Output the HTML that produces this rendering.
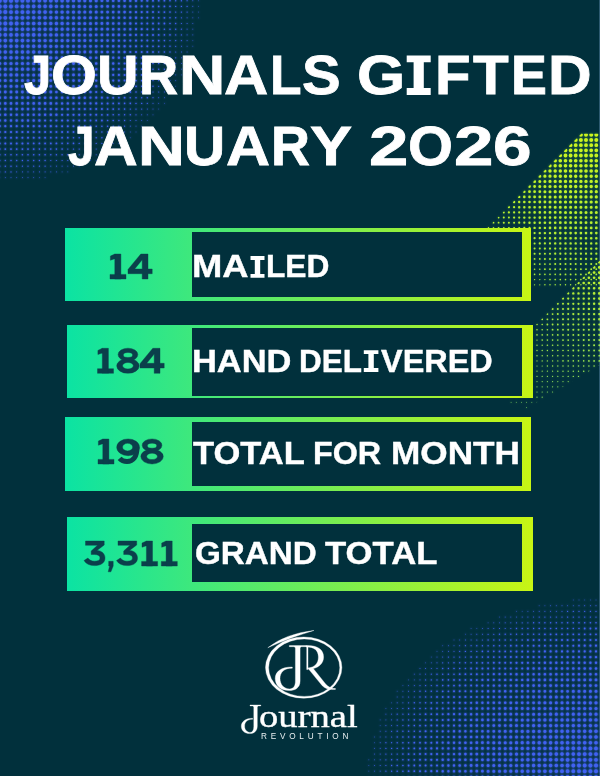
<!DOCTYPE html>
<html><head><meta charset="utf-8"><title>Journals Gifted January 2026</title>
<style>
html,body{margin:0;padding:0}
body{width:600px;height:776px;background:#01303c;position:relative;overflow:hidden;font-family:"Liberation Sans",sans-serif}
.bar{position:absolute;background:linear-gradient(90deg,#0be3a3 0%,#c8f514 100%)}
.inner{position:absolute;background:#01303c}
.t{position:absolute;white-space:nowrap;color:#fff;font-weight:bold;transform-origin:0 0;line-height:1}
</style></head><body>
<svg width="600" height="776" viewBox="0 0 600 776" style="position:absolute;left:0;top:0">
<defs>
<clipPath id="c1"><polygon points="600,133.8 581.3,133.8 430,285.1 430,288 600,288"/></clipPath>
<clipPath id="c2"><polygon points="600,260.5 440,420.5 440,460 600,364.8"/></clipPath>
<linearGradient id="gg1" gradientUnits="userSpaceOnUse" x1="0" y1="133" x2="0" y2="290"><stop offset="0" stop-color="#cdf51c"/><stop offset="1" stop-color="#a6ea3e"/></linearGradient>
<linearGradient id="gg2" gradientUnits="userSpaceOnUse" x1="0" y1="261" x2="0" y2="410"><stop offset="0" stop-color="#c4f22a"/><stop offset="1" stop-color="#7fd862"/></linearGradient>
<filter id="hb" x="-5%" y="-5%" width="110%" height="110%"><feGaussianBlur stdDeviation="1.2"/><feColorMatrix type="matrix" values="0 0 0 0 0.03  0 0 0 0 0.08  0 0 0 0 0.44  0 0 0 1.9 0"/></filter>
<filter id="hg" x="-5%" y="-5%" width="110%" height="110%"><feGaussianBlur stdDeviation="1.0"/><feColorMatrix type="matrix" values="0 0 0 0 0.03  0 0 0 0 0.17  0 0 0 0 0.04  0 0 0 1.4 0"/></filter>
</defs>
<rect x="599" y="0" width="1" height="776" fill="#2d5a70"/>
<use href="#bd" filter="url(#hb)"/><use href="#g1" filter="url(#hg)"/><use href="#g2" filter="url(#hg)"/>
<g id="bd"><g fill="none" stroke="#4062f2" stroke-linecap="round"><path d="M39.4 177.6h0M45.1 177.6h0M62.1 171.9h0M67.8 171.9h0M79.2 166.2h0M90.5 160.5h0M96.2 160.5h0M101.9 154.8h0M113.2 149.1h0M130.3 137.7h0M136 132h0M141.7 126.2h0M147.3 120.5h0M153 114.8h0M158.7 109.1h0M164.4 103.4h0M170 92h0M175.7 86.3h0M181.4 74.9h0M187.1 57.8h0M187.1 63.5h0M192.8 40.6h0M192.8 46.3h0M198.4 0.7h0M198.4 6.4h0M198.4 12.1h0M198.4 17.8h0" stroke-width="0.6" /><path d="M-0.3 177.6h0M5.3 177.6h0M11 177.6h0M16.7 177.6h0M22.4 177.6h0M28 177.6h0M33.7 177.6h0M50.8 171.9h0M56.4 171.9h0M67.8 166.2h0M73.5 166.2h0M84.8 160.5h0M96.2 154.8h0M107.6 149.1h0M113.2 143.4h0M118.9 143.4h0M124.6 137.7h0M130.3 132h0M136 126.2h0M141.7 120.5h0M147.3 114.8h0M153 109.1h0M158.7 103.4h0M164.4 97.7h0M170 86.3h0M175.7 74.9h0M175.7 80.6h0M181.4 63.5h0M181.4 69.2h0M187.1 46.3h0M187.1 52h0M192.8 12.1h0M192.8 17.8h0M192.8 23.5h0M192.8 29.2h0M192.8 34.9h0" stroke-width="0.8" /><path d="M16.7 171.9h0M22.4 171.9h0M28 171.9h0M33.7 171.9h0M39.4 171.9h0M45.1 171.9h0M50.8 166.2h0M56.4 166.2h0M62.1 166.2h0M73.5 160.5h0M79.2 160.5h0M84.8 154.8h0M90.5 154.8h0M96.2 149.1h0M101.9 149.1h0M107.6 143.4h0M113.2 137.7h0M118.9 137.7h0M124.6 132h0M130.3 126.2h0M136 120.5h0M141.7 114.8h0M147.3 109.1h0M153 103.4h0M158.7 97.7h0M164.4 86.3h0M164.4 92h0M170 74.9h0M170 80.6h0M175.7 63.5h0M175.7 69.2h0M181.4 46.3h0M181.4 52h0M181.4 57.8h0M187.1 17.8h0M187.1 23.5h0M187.1 29.2h0M187.1 34.9h0M187.1 40.6h0M192.8 0.7h0M192.8 6.4h0" stroke-width="1" /><path d="M-0.3 171.9h0M5.3 171.9h0M11 171.9h0M16.7 166.2h0M22.4 166.2h0M28 166.2h0M33.7 166.2h0M39.4 166.2h0M45.1 166.2h0M50.8 160.5h0M56.4 160.5h0M62.1 160.5h0M67.8 160.5h0M73.5 154.8h0M79.2 154.8h0M84.8 149.1h0M90.5 149.1h0M96.2 143.4h0M101.9 143.4h0M107.6 137.7h0M113.2 132h0M118.9 132h0M124.6 126.2h0M130.3 120.5h0M136 114.8h0M141.7 109.1h0M147.3 103.4h0M153 92h0M153 97.7h0M158.7 86.3h0M158.7 92h0M164.4 74.9h0M164.4 80.6h0M170 63.5h0M170 69.2h0M175.7 46.3h0M175.7 52h0M175.7 57.8h0M181.4 17.8h0M181.4 23.5h0M181.4 29.2h0M181.4 34.9h0M181.4 40.6h0M187.1 0.7h0M187.1 6.4h0M187.1 12.1h0" stroke-width="1.2" /><path d="M-0.3 160.5h0M-0.3 166.2h0M5.3 160.5h0M5.3 166.2h0M11 160.5h0M11 166.2h0M16.7 160.5h0M22.4 160.5h0M28 160.5h0M33.7 160.5h0M39.4 160.5h0M45.1 160.5h0M50.8 154.8h0M56.4 154.8h0M62.1 154.8h0M67.8 149.1h0M67.8 154.8h0M73.5 149.1h0M79.2 143.4h0M79.2 149.1h0M84.8 143.4h0M90.5 137.7h0M90.5 143.4h0M96.2 137.7h0M101.9 132h0M101.9 137.7h0M107.6 132h0M113.2 126.2h0M118.9 120.5h0M118.9 126.2h0M124.6 114.8h0M124.6 120.5h0M130.3 109.1h0M130.3 114.8h0M136 103.4h0M136 109.1h0M141.7 97.7h0M141.7 103.4h0M147.3 92h0M147.3 97.7h0M153 80.6h0M153 86.3h0M158.7 69.2h0M158.7 74.9h0M158.7 80.6h0M164.4 57.8h0M164.4 63.5h0M164.4 69.2h0M170 40.6h0M170 46.3h0M170 52h0M170 57.8h0M175.7 0.7h0M175.7 6.4h0M175.7 12.1h0M175.7 17.8h0M175.7 23.5h0M175.7 29.2h0M175.7 34.9h0M175.7 40.6h0M181.4 0.7h0M181.4 6.4h0M181.4 12.1h0" stroke-width="1.4" /><path d="M-0.3 154.8h0M5.3 154.8h0M11 154.8h0M16.7 154.8h0M22.4 154.8h0M28 154.8h0M33.7 154.8h0M39.4 149.1h0M39.4 154.8h0M45.1 149.1h0M45.1 154.8h0M50.8 149.1h0M56.4 149.1h0M62.1 143.4h0M62.1 149.1h0M67.8 143.4h0M73.5 137.7h0M73.5 143.4h0M79.2 137.7h0M84.8 137.7h0M90.5 132h0M96.2 126.2h0M96.2 132h0M101.9 126.2h0M107.6 120.5h0M107.6 126.2h0M113.2 114.8h0M113.2 120.5h0M118.9 109.1h0M118.9 114.8h0M124.6 103.4h0M124.6 109.1h0M130.3 97.7h0M130.3 103.4h0M136 92h0M136 97.7h0M141.7 86.3h0M141.7 92h0M147.3 74.9h0M147.3 80.6h0M147.3 86.3h0M153 63.5h0M153 69.2h0M153 74.9h0M158.7 52h0M158.7 57.8h0M158.7 63.5h0M164.4 29.2h0M164.4 34.9h0M164.4 40.6h0M164.4 46.3h0M164.4 52h0M170 0.7h0M170 6.4h0M170 12.1h0M170 17.8h0M170 23.5h0M170 29.2h0M170 34.9h0" stroke-width="1.6" /><path d="M-0.3 149.1h0M5.3 149.1h0M11 149.1h0M16.7 149.1h0M22.4 149.1h0M28 143.4h0M28 149.1h0M33.7 143.4h0M33.7 149.1h0M39.4 143.4h0M45.1 143.4h0M50.8 137.7h0M50.8 143.4h0M56.4 137.7h0M56.4 143.4h0M62.1 137.7h0M67.8 132h0M67.8 137.7h0M73.5 132h0M79.2 126.2h0M79.2 132h0M84.8 126.2h0M84.8 132h0M90.5 120.5h0M90.5 126.2h0M96.2 120.5h0M101.9 114.8h0M101.9 120.5h0M107.6 109.1h0M107.6 114.8h0M113.2 103.4h0M113.2 109.1h0M118.9 97.7h0M118.9 103.4h0M124.6 92h0M124.6 97.7h0M130.3 86.3h0M130.3 92h0M136 74.9h0M136 80.6h0M136 86.3h0M141.7 69.2h0M141.7 74.9h0M141.7 80.6h0M147.3 57.8h0M147.3 63.5h0M147.3 69.2h0M153 40.6h0M153 46.3h0M153 52h0M153 57.8h0M158.7 0.7h0M158.7 6.4h0M158.7 12.1h0M158.7 17.8h0M158.7 23.5h0M158.7 29.2h0M158.7 34.9h0M158.7 40.6h0M158.7 46.3h0M164.4 0.7h0M164.4 6.4h0M164.4 12.1h0M164.4 17.8h0M164.4 23.5h0" stroke-width="1.8" /><path d="M-0.3 137.7h0M-0.3 143.4h0M5.3 137.7h0M5.3 143.4h0M11 137.7h0M11 143.4h0M16.7 137.7h0M16.7 143.4h0M22.4 137.7h0M22.4 143.4h0M28 137.7h0M33.7 137.7h0M39.4 132h0M39.4 137.7h0M45.1 132h0M45.1 137.7h0M50.8 132h0M56.4 126.2h0M56.4 132h0M62.1 126.2h0M62.1 132h0M67.8 126.2h0M73.5 120.5h0M73.5 126.2h0M79.2 120.5h0M84.8 114.8h0M84.8 120.5h0M90.5 109.1h0M90.5 114.8h0M96.2 109.1h0M96.2 114.8h0M101.9 103.4h0M101.9 109.1h0M107.6 97.7h0M107.6 103.4h0M113.2 92h0M113.2 97.7h0M118.9 86.3h0M118.9 92h0M124.6 74.9h0M124.6 80.6h0M124.6 86.3h0M130.3 69.2h0M130.3 74.9h0M130.3 80.6h0M136 57.8h0M136 63.5h0M136 69.2h0M141.7 40.6h0M141.7 46.3h0M141.7 52h0M141.7 57.8h0M141.7 63.5h0M147.3 17.8h0M147.3 23.5h0M147.3 29.2h0M147.3 34.9h0M147.3 40.6h0M147.3 46.3h0M147.3 52h0M153 0.7h0M153 6.4h0M153 12.1h0M153 17.8h0M153 23.5h0M153 29.2h0M153 34.9h0" stroke-width="2" /><path d="M-0.3 126.2h0M-0.3 132h0M5.3 126.2h0M5.3 132h0M11 126.2h0M11 132h0M16.7 126.2h0M16.7 132h0M22.4 126.2h0M22.4 132h0M28 126.2h0M28 132h0M33.7 126.2h0M33.7 132h0M39.4 126.2h0M45.1 120.5h0M45.1 126.2h0M50.8 120.5h0M50.8 126.2h0M56.4 120.5h0M62.1 114.8h0M62.1 120.5h0M67.8 114.8h0M67.8 120.5h0M73.5 109.1h0M73.5 114.8h0M79.2 103.4h0M79.2 109.1h0M79.2 114.8h0M84.8 103.4h0M84.8 109.1h0M90.5 97.7h0M90.5 103.4h0M96.2 92h0M96.2 97.7h0M96.2 103.4h0M101.9 86.3h0M101.9 92h0M101.9 97.7h0M107.6 80.6h0M107.6 86.3h0M107.6 92h0M113.2 74.9h0M113.2 80.6h0M113.2 86.3h0M118.9 63.5h0M118.9 69.2h0M118.9 74.9h0M118.9 80.6h0M124.6 57.8h0M124.6 63.5h0M124.6 69.2h0M130.3 40.6h0M130.3 46.3h0M130.3 52h0M130.3 57.8h0M130.3 63.5h0M136 23.5h0M136 29.2h0M136 34.9h0M136 40.6h0M136 46.3h0M136 52h0M141.7 0.7h0M141.7 6.4h0M141.7 12.1h0M141.7 17.8h0M141.7 23.5h0M141.7 29.2h0M141.7 34.9h0M147.3 0.7h0M147.3 6.4h0M147.3 12.1h0" stroke-width="2.2" /><path d="M-0.3 120.5h0M5.3 120.5h0M11 114.8h0M11 120.5h0M16.7 114.8h0M16.7 120.5h0M22.4 114.8h0M22.4 120.5h0M28 114.8h0M28 120.5h0M33.7 114.8h0M33.7 120.5h0M39.4 114.8h0M39.4 120.5h0M45.1 109.1h0M45.1 114.8h0M50.8 109.1h0M50.8 114.8h0M56.4 103.4h0M56.4 109.1h0M56.4 114.8h0M62.1 103.4h0M62.1 109.1h0M67.8 97.7h0M67.8 103.4h0M67.8 109.1h0M73.5 97.7h0M73.5 103.4h0M79.2 92h0M79.2 97.7h0M84.8 86.3h0M84.8 92h0M84.8 97.7h0M90.5 80.6h0M90.5 86.3h0M90.5 92h0M96.2 74.9h0M96.2 80.6h0M96.2 86.3h0M101.9 69.2h0M101.9 74.9h0M101.9 80.6h0M107.6 63.5h0M107.6 69.2h0M107.6 74.9h0M113.2 52h0M113.2 57.8h0M113.2 63.5h0M113.2 69.2h0M118.9 40.6h0M118.9 46.3h0M118.9 52h0M118.9 57.8h0M124.6 17.8h0M124.6 23.5h0M124.6 29.2h0M124.6 34.9h0M124.6 40.6h0M124.6 46.3h0M124.6 52h0M130.3 0.7h0M130.3 6.4h0M130.3 12.1h0M130.3 17.8h0M130.3 23.5h0M130.3 29.2h0M130.3 34.9h0M136 0.7h0M136 6.4h0M136 12.1h0M136 17.8h0" stroke-width="2.4" /><path d="M-0.3 103.4h0M-0.3 109.1h0M-0.3 114.8h0M5.3 103.4h0M5.3 109.1h0M5.3 114.8h0M11 103.4h0M11 109.1h0M16.7 103.4h0M16.7 109.1h0M22.4 103.4h0M22.4 109.1h0M28 103.4h0M28 109.1h0M33.7 103.4h0M33.7 109.1h0M39.4 97.7h0M39.4 103.4h0M39.4 109.1h0M45.1 97.7h0M45.1 103.4h0M50.8 97.7h0M50.8 103.4h0M56.4 92h0M56.4 97.7h0M62.1 86.3h0M62.1 92h0M62.1 97.7h0M67.8 86.3h0M67.8 92h0M73.5 80.6h0M73.5 86.3h0M73.5 92h0M79.2 74.9h0M79.2 80.6h0M79.2 86.3h0M84.8 69.2h0M84.8 74.9h0M84.8 80.6h0M90.5 63.5h0M90.5 69.2h0M90.5 74.9h0M96.2 57.8h0M96.2 63.5h0M96.2 69.2h0M101.9 46.3h0M101.9 52h0M101.9 57.8h0M101.9 63.5h0M107.6 34.9h0M107.6 40.6h0M107.6 46.3h0M107.6 52h0M107.6 57.8h0M113.2 0.7h0M113.2 6.4h0M113.2 12.1h0M113.2 17.8h0M113.2 23.5h0M113.2 29.2h0M113.2 34.9h0M113.2 40.6h0M113.2 46.3h0M118.9 0.7h0M118.9 6.4h0M118.9 12.1h0M118.9 17.8h0M118.9 23.5h0M118.9 29.2h0M118.9 34.9h0M124.6 0.7h0M124.6 6.4h0M124.6 12.1h0" stroke-width="2.6" /><path d="M-0.3 92h0M-0.3 97.7h0M5.3 92h0M5.3 97.7h0M11 92h0M11 97.7h0M16.7 92h0M16.7 97.7h0M22.4 92h0M22.4 97.7h0M28 92h0M28 97.7h0M33.7 86.3h0M33.7 92h0M33.7 97.7h0M39.4 86.3h0M39.4 92h0M45.1 86.3h0M45.1 92h0M50.8 80.6h0M50.8 86.3h0M50.8 92h0M56.4 74.9h0M56.4 80.6h0M56.4 86.3h0M62.1 74.9h0M62.1 80.6h0M67.8 69.2h0M67.8 74.9h0M67.8 80.6h0M73.5 63.5h0M73.5 69.2h0M73.5 74.9h0M79.2 57.8h0M79.2 63.5h0M79.2 69.2h0M84.8 52h0M84.8 57.8h0M84.8 63.5h0M90.5 40.6h0M90.5 46.3h0M90.5 52h0M90.5 57.8h0M96.2 23.5h0M96.2 29.2h0M96.2 34.9h0M96.2 40.6h0M96.2 46.3h0M96.2 52h0M101.9 0.7h0M101.9 6.4h0M101.9 12.1h0M101.9 17.8h0M101.9 23.5h0M101.9 29.2h0M101.9 34.9h0M101.9 40.6h0M107.6 0.7h0M107.6 6.4h0M107.6 12.1h0M107.6 17.8h0M107.6 23.5h0M107.6 29.2h0" stroke-width="2.8" /><path d="M-0.3 80.6h0M-0.3 86.3h0M5.3 80.6h0M5.3 86.3h0M11 80.6h0M11 86.3h0M16.7 80.6h0M16.7 86.3h0M22.4 74.9h0M22.4 80.6h0M22.4 86.3h0M28 74.9h0M28 80.6h0M28 86.3h0M33.7 74.9h0M33.7 80.6h0M39.4 69.2h0M39.4 74.9h0M39.4 80.6h0M45.1 69.2h0M45.1 74.9h0M45.1 80.6h0M50.8 63.5h0M50.8 69.2h0M50.8 74.9h0M56.4 57.8h0M56.4 63.5h0M56.4 69.2h0M62.1 52h0M62.1 57.8h0M62.1 63.5h0M62.1 69.2h0M67.8 46.3h0M67.8 52h0M67.8 57.8h0M67.8 63.5h0M73.5 40.6h0M73.5 46.3h0M73.5 52h0M73.5 57.8h0M79.2 29.2h0M79.2 34.9h0M79.2 40.6h0M79.2 46.3h0M79.2 52h0M84.8 0.7h0M84.8 6.4h0M84.8 12.1h0M84.8 17.8h0M84.8 23.5h0M84.8 29.2h0M84.8 34.9h0M84.8 40.6h0M84.8 46.3h0M90.5 0.7h0M90.5 6.4h0M90.5 12.1h0M90.5 17.8h0M90.5 23.5h0M90.5 29.2h0M90.5 34.9h0M96.2 0.7h0M96.2 6.4h0M96.2 12.1h0M96.2 17.8h0" stroke-width="3" /><path d="M-0.3 63.5h0M-0.3 69.2h0M-0.3 74.9h0M5.3 63.5h0M5.3 69.2h0M5.3 74.9h0M11 63.5h0M11 69.2h0M11 74.9h0M16.7 63.5h0M16.7 69.2h0M16.7 74.9h0M22.4 63.5h0M22.4 69.2h0M28 57.8h0M28 63.5h0M28 69.2h0M33.7 57.8h0M33.7 63.5h0M33.7 69.2h0M39.4 52h0M39.4 57.8h0M39.4 63.5h0M45.1 52h0M45.1 57.8h0M45.1 63.5h0M50.8 46.3h0M50.8 52h0M50.8 57.8h0M56.4 40.6h0M56.4 46.3h0M56.4 52h0M62.1 29.2h0M62.1 34.9h0M62.1 40.6h0M62.1 46.3h0M67.8 12.1h0M67.8 17.8h0M67.8 23.5h0M67.8 29.2h0M67.8 34.9h0M67.8 40.6h0M73.5 0.7h0M73.5 6.4h0M73.5 12.1h0M73.5 17.8h0M73.5 23.5h0M73.5 29.2h0M73.5 34.9h0M79.2 0.7h0M79.2 6.4h0M79.2 12.1h0M79.2 17.8h0M79.2 23.5h0" stroke-width="3.2" /><path d="M-0.3 52h0M-0.3 57.8h0M5.3 52h0M5.3 57.8h0M11 46.3h0M11 52h0M11 57.8h0M16.7 46.3h0M16.7 52h0M16.7 57.8h0M22.4 46.3h0M22.4 52h0M22.4 57.8h0M28 40.6h0M28 46.3h0M28 52h0M33.7 40.6h0M33.7 46.3h0M33.7 52h0M39.4 34.9h0M39.4 40.6h0M39.4 46.3h0M45.1 23.5h0M45.1 29.2h0M45.1 34.9h0M45.1 40.6h0M45.1 46.3h0M50.8 12.1h0M50.8 17.8h0M50.8 23.5h0M50.8 29.2h0M50.8 34.9h0M50.8 40.6h0M56.4 0.7h0M56.4 6.4h0M56.4 12.1h0M56.4 17.8h0M56.4 23.5h0M56.4 29.2h0M56.4 34.9h0M62.1 0.7h0M62.1 6.4h0M62.1 12.1h0M62.1 17.8h0M62.1 23.5h0M67.8 0.7h0M67.8 6.4h0" stroke-width="3.4" /><path d="M-0.3 34.9h0M-0.3 40.6h0M-0.3 46.3h0M5.3 34.9h0M5.3 40.6h0M5.3 46.3h0M11 29.2h0M11 34.9h0M11 40.6h0M16.7 29.2h0M16.7 34.9h0M16.7 40.6h0M22.4 23.5h0M22.4 29.2h0M22.4 34.9h0M22.4 40.6h0M28 17.8h0M28 23.5h0M28 29.2h0M28 34.9h0M33.7 0.7h0M33.7 6.4h0M33.7 12.1h0M33.7 17.8h0M33.7 23.5h0M33.7 29.2h0M33.7 34.9h0M39.4 0.7h0M39.4 6.4h0M39.4 12.1h0M39.4 17.8h0M39.4 23.5h0M39.4 29.2h0M45.1 0.7h0M45.1 6.4h0M45.1 12.1h0M45.1 17.8h0M50.8 0.7h0M50.8 6.4h0" stroke-width="3.6" /><path d="M-0.3 17.8h0M-0.3 23.5h0M-0.3 29.2h0M5.3 17.8h0M5.3 23.5h0M5.3 29.2h0M11 12.1h0M11 17.8h0M11 23.5h0M16.7 0.7h0M16.7 6.4h0M16.7 12.1h0M16.7 17.8h0M16.7 23.5h0M22.4 0.7h0M22.4 6.4h0M22.4 12.1h0M22.4 17.8h0M28 0.7h0M28 6.4h0M28 12.1h0" stroke-width="3.8" /><path d="M-0.3 0.7h0M-0.3 6.4h0M-0.3 12.1h0M5.3 0.7h0M5.3 6.4h0M5.3 12.1h0M11 0.7h0M11 6.4h0" stroke-width="4" /></g><g fill="none" stroke="#4062f2" stroke-linecap="round"><path d="M368.8 759.8h0M368.8 765.5h0M368.8 771.2h0M368.8 777h0M368.8 782.7h0M374.5 737h0M374.5 742.7h0M380.2 719.9h0M380.2 725.6h0M385.9 708.5h0M391.6 702.8h0M397.2 691.3h0M402.9 685.6h0M408.6 679.9h0M425.6 662.8h0M431.3 657.1h0M437 651.4h0M442.7 645.7h0M454 640h0M465.4 634.3h0M471.1 628.5h0M476.8 628.5h0M488.1 622.8h0M499.5 617.1h0M516.5 611.4h0M522.2 611.4h0M539.2 605.7h0M544.9 605.7h0M573.3 600h0M579 600h0M584.7 600h0M590.4 600h0M596 600h0M601.7 600h0M607.4 600h0" stroke-width="0.6" /><path d="M374.5 748.4h0M374.5 754.1h0M374.5 759.8h0M374.5 765.5h0M374.5 771.2h0M374.5 777h0M374.5 782.7h0M380.2 731.3h0M380.2 737h0M385.9 714.2h0M385.9 719.9h0M391.6 708.5h0M397.2 697h0M402.9 691.3h0M408.6 685.6h0M414.3 674.2h0M414.3 679.9h0M420 668.5h0M431.3 662.8h0M437 657.1h0M442.7 651.4h0M448.4 645.7h0M454 645.7h0M459.7 640h0M471.1 634.3h0M482.4 628.5h0M493.8 622.8h0M499.5 622.8h0M505.2 617.1h0M510.8 617.1h0M516.5 617.1h0M527.9 611.4h0M533.6 611.4h0M550.6 605.7h0M556.3 605.7h0M562 605.7h0M567.6 605.7h0M573.3 605.7h0" stroke-width="0.8" /><path d="M380.2 742.7h0M380.2 748.4h0M380.2 754.1h0M380.2 759.8h0M380.2 765.5h0M380.2 771.2h0M380.2 777h0M380.2 782.7h0M385.9 725.6h0M385.9 731.3h0M385.9 737h0M391.6 714.2h0M391.6 719.9h0M391.6 725.6h0M397.2 702.8h0M397.2 708.5h0M402.9 697h0M402.9 702.8h0M408.6 691.3h0M414.3 685.6h0M420 674.2h0M420 679.9h0M425.6 668.5h0M425.6 674.2h0M431.3 668.5h0M437 662.8h0M442.7 657.1h0M448.4 651.4h0M454 651.4h0M459.7 645.7h0M465.4 640h0M471.1 640h0M476.8 634.3h0M482.4 634.3h0M488.1 628.5h0M493.8 628.5h0M505.2 622.8h0M510.8 622.8h0M522.2 617.1h0M527.9 617.1h0M533.6 617.1h0M539.2 611.4h0M544.9 611.4h0M550.6 611.4h0M556.3 611.4h0M562 611.4h0M579 605.7h0M584.7 605.7h0M590.4 605.7h0M596 605.7h0M601.7 605.7h0M607.4 605.7h0" stroke-width="1" /><path d="M385.9 742.7h0M385.9 748.4h0M385.9 754.1h0M385.9 759.8h0M385.9 765.5h0M385.9 771.2h0M385.9 777h0M385.9 782.7h0M391.6 731.3h0M391.6 737h0M391.6 742.7h0M397.2 714.2h0M397.2 719.9h0M397.2 725.6h0M402.9 708.5h0M402.9 714.2h0M408.6 697h0M408.6 702.8h0M414.3 691.3h0M414.3 697h0M420 685.6h0M425.6 679.9h0M431.3 674.2h0M437 668.5h0M442.7 662.8h0M448.4 657.1h0M448.4 662.8h0M454 657.1h0M459.7 651.4h0M465.4 645.7h0M471.1 645.7h0M476.8 640h0M482.4 640h0M488.1 634.3h0M493.8 634.3h0M499.5 628.5h0M505.2 628.5h0M510.8 628.5h0M516.5 622.8h0M522.2 622.8h0M527.9 622.8h0M539.2 617.1h0M544.9 617.1h0M550.6 617.1h0M556.3 617.1h0M562 617.1h0M567.6 611.4h0M573.3 611.4h0M579 611.4h0M584.7 611.4h0M590.4 611.4h0M596 611.4h0M601.7 611.4h0M607.4 611.4h0" stroke-width="1.2" /><path d="M391.6 748.4h0M391.6 754.1h0M391.6 759.8h0M391.6 765.5h0M391.6 771.2h0M391.6 777h0M391.6 782.7h0M397.2 731.3h0M397.2 737h0M397.2 742.7h0M397.2 748.4h0M397.2 754.1h0M397.2 759.8h0M402.9 719.9h0M402.9 725.6h0M402.9 731.3h0M408.6 708.5h0M408.6 714.2h0M408.6 719.9h0M414.3 702.8h0M414.3 708.5h0M420 691.3h0M420 697h0M420 702.8h0M425.6 685.6h0M425.6 691.3h0M431.3 679.9h0M431.3 685.6h0M437 674.2h0M437 679.9h0M442.7 668.5h0M442.7 674.2h0M448.4 668.5h0M454 662.8h0M459.7 657.1h0M459.7 662.8h0M465.4 651.4h0M465.4 657.1h0M471.1 651.4h0M476.8 645.7h0M476.8 651.4h0M482.4 645.7h0M488.1 640h0M488.1 645.7h0M493.8 640h0M499.5 634.3h0M499.5 640h0M505.2 634.3h0M510.8 634.3h0M516.5 628.5h0M516.5 634.3h0M522.2 628.5h0M527.9 628.5h0M533.6 622.8h0M533.6 628.5h0M539.2 622.8h0M544.9 622.8h0M550.6 622.8h0M556.3 622.8h0M562 622.8h0M567.6 617.1h0M573.3 617.1h0M579 617.1h0M584.7 617.1h0M590.4 617.1h0M596 617.1h0M601.7 617.1h0M607.4 617.1h0" stroke-width="1.4" /><path d="M397.2 765.5h0M397.2 771.2h0M397.2 777h0M397.2 782.7h0M402.9 737h0M402.9 742.7h0M402.9 748.4h0M402.9 754.1h0M402.9 759.8h0M402.9 765.5h0M402.9 771.2h0M402.9 777h0M402.9 782.7h0M408.6 725.6h0M408.6 731.3h0M408.6 737h0M408.6 742.7h0M408.6 748.4h0M414.3 714.2h0M414.3 719.9h0M414.3 725.6h0M414.3 731.3h0M420 708.5h0M420 714.2h0M420 719.9h0M425.6 697h0M425.6 702.8h0M425.6 708.5h0M431.3 691.3h0M431.3 697h0M437 685.6h0M437 691.3h0M442.7 679.9h0M442.7 685.6h0M448.4 674.2h0M448.4 679.9h0M454 668.5h0M454 674.2h0M459.7 668.5h0M465.4 662.8h0M465.4 668.5h0M471.1 657.1h0M471.1 662.8h0M476.8 657.1h0M482.4 651.4h0M482.4 657.1h0M488.1 651.4h0M493.8 645.7h0M493.8 651.4h0M499.5 645.7h0M505.2 640h0M505.2 645.7h0M510.8 640h0M516.5 640h0M522.2 634.3h0M522.2 640h0M527.9 634.3h0M533.6 634.3h0M539.2 628.5h0M539.2 634.3h0M544.9 628.5h0M550.6 628.5h0M556.3 628.5h0M562 628.5h0M567.6 622.8h0M567.6 628.5h0M573.3 622.8h0M573.3 628.5h0M579 622.8h0M579 628.5h0M584.7 622.8h0M590.4 622.8h0M596 622.8h0M601.7 622.8h0M607.4 622.8h0" stroke-width="1.6" /><path d="M408.6 754.1h0M408.6 759.8h0M408.6 765.5h0M408.6 771.2h0M408.6 777h0M408.6 782.7h0M414.3 737h0M414.3 742.7h0M414.3 748.4h0M414.3 754.1h0M414.3 759.8h0M414.3 765.5h0M414.3 771.2h0M414.3 777h0M414.3 782.7h0M420 725.6h0M420 731.3h0M420 737h0M420 742.7h0M425.6 714.2h0M425.6 719.9h0M425.6 725.6h0M431.3 702.8h0M431.3 708.5h0M431.3 714.2h0M437 697h0M437 702.8h0M437 708.5h0M442.7 691.3h0M442.7 697h0M442.7 702.8h0M448.4 685.6h0M448.4 691.3h0M454 679.9h0M454 685.6h0M459.7 674.2h0M459.7 679.9h0M465.4 674.2h0M465.4 679.9h0M471.1 668.5h0M471.1 674.2h0M476.8 662.8h0M476.8 668.5h0M482.4 662.8h0M488.1 657.1h0M488.1 662.8h0M493.8 657.1h0M499.5 651.4h0M499.5 657.1h0M505.2 651.4h0M510.8 645.7h0M510.8 651.4h0M516.5 645.7h0M522.2 645.7h0M527.9 640h0M527.9 645.7h0M533.6 640h0M539.2 640h0M544.9 634.3h0M544.9 640h0M550.6 634.3h0M550.6 640h0M556.3 634.3h0M562 634.3h0M567.6 634.3h0M573.3 634.3h0M579 634.3h0M584.7 628.5h0M584.7 634.3h0M590.4 628.5h0M590.4 634.3h0M596 628.5h0M596 634.3h0M601.7 628.5h0M601.7 634.3h0M607.4 628.5h0M607.4 634.3h0" stroke-width="1.8" /><path d="M420 748.4h0M420 754.1h0M420 759.8h0M420 765.5h0M420 771.2h0M420 777h0M420 782.7h0M425.6 731.3h0M425.6 737h0M425.6 742.7h0M425.6 748.4h0M425.6 754.1h0M425.6 759.8h0M425.6 765.5h0M425.6 771.2h0M425.6 777h0M425.6 782.7h0M431.3 719.9h0M431.3 725.6h0M431.3 731.3h0M431.3 737h0M431.3 742.7h0M437 714.2h0M437 719.9h0M437 725.6h0M437 731.3h0M442.7 708.5h0M442.7 714.2h0M442.7 719.9h0M448.4 697h0M448.4 702.8h0M448.4 708.5h0M454 691.3h0M454 697h0M454 702.8h0M459.7 685.6h0M459.7 691.3h0M459.7 697h0M465.4 685.6h0M465.4 691.3h0M471.1 679.9h0M471.1 685.6h0M476.8 674.2h0M476.8 679.9h0M482.4 668.5h0M482.4 674.2h0M488.1 668.5h0M488.1 674.2h0M493.8 662.8h0M493.8 668.5h0M499.5 662.8h0M499.5 668.5h0M505.2 657.1h0M505.2 662.8h0M510.8 657.1h0M510.8 662.8h0M516.5 651.4h0M516.5 657.1h0M522.2 651.4h0M522.2 657.1h0M527.9 651.4h0M533.6 645.7h0M533.6 651.4h0M539.2 645.7h0M539.2 651.4h0M544.9 645.7h0M550.6 645.7h0M556.3 640h0M556.3 645.7h0M562 640h0M562 645.7h0M567.6 640h0M567.6 645.7h0M573.3 640h0M573.3 645.7h0M579 640h0M584.7 640h0M590.4 640h0M596 640h0M601.7 640h0M607.4 640h0" stroke-width="2" /><path d="M431.3 748.4h0M431.3 754.1h0M431.3 759.8h0M431.3 765.5h0M431.3 771.2h0M431.3 777h0M431.3 782.7h0M437 737h0M437 742.7h0M437 748.4h0M437 754.1h0M437 759.8h0M437 765.5h0M437 771.2h0M437 777h0M437 782.7h0M442.7 725.6h0M442.7 731.3h0M442.7 737h0M442.7 742.7h0M442.7 748.4h0M442.7 754.1h0M448.4 714.2h0M448.4 719.9h0M448.4 725.6h0M448.4 731.3h0M448.4 737h0M454 708.5h0M454 714.2h0M454 719.9h0M454 725.6h0M459.7 702.8h0M459.7 708.5h0M459.7 714.2h0M465.4 697h0M465.4 702.8h0M465.4 708.5h0M471.1 691.3h0M471.1 697h0M471.1 702.8h0M476.8 685.6h0M476.8 691.3h0M476.8 697h0M482.4 679.9h0M482.4 685.6h0M482.4 691.3h0M488.1 679.9h0M488.1 685.6h0M493.8 674.2h0M493.8 679.9h0M499.5 674.2h0M499.5 679.9h0M505.2 668.5h0M505.2 674.2h0M510.8 668.5h0M510.8 674.2h0M516.5 662.8h0M516.5 668.5h0M522.2 662.8h0M522.2 668.5h0M527.9 657.1h0M527.9 662.8h0M533.6 657.1h0M533.6 662.8h0M539.2 657.1h0M539.2 662.8h0M544.9 651.4h0M544.9 657.1h0M550.6 651.4h0M550.6 657.1h0M556.3 651.4h0M556.3 657.1h0M562 651.4h0M562 657.1h0M567.6 651.4h0M573.3 651.4h0M579 645.7h0M579 651.4h0M584.7 645.7h0M584.7 651.4h0M590.4 645.7h0M590.4 651.4h0M596 645.7h0M596 651.4h0M601.7 645.7h0M601.7 651.4h0M607.4 645.7h0M607.4 651.4h0" stroke-width="2.2" /><path d="M442.7 759.8h0M442.7 765.5h0M442.7 771.2h0M442.7 777h0M442.7 782.7h0M448.4 742.7h0M448.4 748.4h0M448.4 754.1h0M448.4 759.8h0M448.4 765.5h0M448.4 771.2h0M448.4 777h0M448.4 782.7h0M454 731.3h0M454 737h0M454 742.7h0M454 748.4h0M454 754.1h0M454 759.8h0M454 765.5h0M454 771.2h0M454 782.7h0M459.7 719.9h0M459.7 725.6h0M459.7 731.3h0M459.7 737h0M459.7 742.7h0M465.4 714.2h0M465.4 719.9h0M465.4 725.6h0M465.4 731.3h0M471.1 708.5h0M471.1 714.2h0M471.1 719.9h0M476.8 702.8h0M476.8 708.5h0M476.8 714.2h0M482.4 697h0M482.4 702.8h0M482.4 708.5h0M488.1 691.3h0M488.1 697h0M488.1 702.8h0M493.8 685.6h0M493.8 691.3h0M493.8 697h0M499.5 685.6h0M499.5 691.3h0M505.2 679.9h0M505.2 685.6h0M510.8 679.9h0M510.8 685.6h0M516.5 674.2h0M516.5 679.9h0M522.2 674.2h0M522.2 679.9h0M527.9 668.5h0M527.9 674.2h0M533.6 668.5h0M533.6 674.2h0M539.2 668.5h0M539.2 674.2h0M544.9 662.8h0M544.9 668.5h0M550.6 662.8h0M550.6 668.5h0M556.3 662.8h0M556.3 668.5h0M562 662.8h0M567.6 657.1h0M567.6 662.8h0M573.3 657.1h0M573.3 662.8h0M579 657.1h0M579 662.8h0M584.7 657.1h0M584.7 662.8h0M590.4 657.1h0M590.4 662.8h0M596 657.1h0M596 662.8h0M601.7 657.1h0M601.7 662.8h0M607.4 657.1h0M607.4 662.8h0" stroke-width="2.4" /><path d="M454 777h0M459.7 748.4h0M459.7 754.1h0M459.7 759.8h0M459.7 765.5h0M459.7 771.2h0M459.7 777h0M459.7 782.7h0M465.4 737h0M465.4 742.7h0M465.4 748.4h0M465.4 754.1h0M465.4 759.8h0M465.4 765.5h0M465.4 771.2h0M465.4 777h0M465.4 782.7h0M471.1 725.6h0M471.1 731.3h0M471.1 737h0M471.1 742.7h0M471.1 748.4h0M471.1 754.1h0M476.8 719.9h0M476.8 725.6h0M476.8 731.3h0M476.8 737h0M482.4 714.2h0M482.4 719.9h0M482.4 725.6h0M482.4 731.3h0M488.1 708.5h0M488.1 714.2h0M488.1 719.9h0M493.8 702.8h0M493.8 708.5h0M493.8 714.2h0M499.5 697h0M499.5 702.8h0M499.5 708.5h0M505.2 691.3h0M505.2 697h0M505.2 702.8h0M510.8 691.3h0M510.8 697h0M516.5 685.6h0M516.5 691.3h0M516.5 697h0M522.2 685.6h0M522.2 691.3h0M527.9 679.9h0M527.9 685.6h0M527.9 691.3h0M533.6 679.9h0M533.6 685.6h0M539.2 679.9h0M539.2 685.6h0M544.9 674.2h0M544.9 679.9h0M550.6 674.2h0M550.6 679.9h0M556.3 674.2h0M556.3 679.9h0M562 668.5h0M562 674.2h0M562 679.9h0M567.6 668.5h0M567.6 674.2h0M573.3 668.5h0M573.3 674.2h0M579 668.5h0M579 674.2h0M584.7 668.5h0M584.7 674.2h0M590.4 668.5h0M590.4 674.2h0M596 668.5h0M596 674.2h0M601.7 668.5h0M601.7 674.2h0M607.4 668.5h0M607.4 674.2h0" stroke-width="2.6" /><path d="M471.1 759.8h0M471.1 765.5h0M471.1 771.2h0M471.1 777h0M471.1 782.7h0M476.8 742.7h0M476.8 748.4h0M476.8 754.1h0M476.8 759.8h0M476.8 765.5h0M476.8 771.2h0M476.8 777h0M476.8 782.7h0M482.4 737h0M482.4 742.7h0M482.4 748.4h0M482.4 754.1h0M482.4 759.8h0M482.4 765.5h0M482.4 771.2h0M482.4 777h0M482.4 782.7h0M488.1 725.6h0M488.1 731.3h0M488.1 737h0M488.1 742.7h0M488.1 748.4h0M488.1 754.1h0M493.8 719.9h0M493.8 725.6h0M493.8 731.3h0M493.8 737h0M499.5 714.2h0M499.5 719.9h0M499.5 725.6h0M499.5 731.3h0M505.2 708.5h0M505.2 714.2h0M505.2 719.9h0M505.2 725.6h0M510.8 702.8h0M510.8 708.5h0M510.8 714.2h0M510.8 719.9h0M516.5 702.8h0M516.5 708.5h0M516.5 714.2h0M522.2 697h0M522.2 702.8h0M522.2 708.5h0M527.9 697h0M527.9 702.8h0M533.6 691.3h0M533.6 697h0M533.6 702.8h0M539.2 691.3h0M539.2 697h0M544.9 685.6h0M544.9 691.3h0M544.9 697h0M550.6 685.6h0M550.6 691.3h0M556.3 685.6h0M556.3 691.3h0M562 685.6h0M562 691.3h0M567.6 679.9h0M567.6 685.6h0M567.6 691.3h0M573.3 679.9h0M573.3 685.6h0M579 679.9h0M579 685.6h0M584.7 679.9h0M584.7 685.6h0M590.4 679.9h0M590.4 685.6h0M596 679.9h0M596 685.6h0M601.7 679.9h0M601.7 685.6h0M607.4 679.9h0M607.4 685.6h0" stroke-width="2.8" /><path d="M488.1 759.8h0M488.1 765.5h0M488.1 771.2h0M488.1 777h0M488.1 782.7h0M493.8 742.7h0M493.8 748.4h0M493.8 754.1h0M493.8 759.8h0M493.8 765.5h0M493.8 771.2h0M493.8 777h0M493.8 782.7h0M499.5 737h0M499.5 742.7h0M499.5 748.4h0M499.5 754.1h0M499.5 759.8h0M499.5 765.5h0M499.5 771.2h0M499.5 777h0M499.5 782.7h0M505.2 731.3h0M505.2 737h0M505.2 742.7h0M505.2 748.4h0M505.2 754.1h0M510.8 725.6h0M510.8 731.3h0M510.8 737h0M510.8 742.7h0M516.5 719.9h0M516.5 725.6h0M516.5 731.3h0M516.5 737h0M522.2 714.2h0M522.2 719.9h0M522.2 725.6h0M527.9 708.5h0M527.9 714.2h0M527.9 719.9h0M527.9 725.6h0M533.6 708.5h0M533.6 714.2h0M533.6 719.9h0M539.2 702.8h0M539.2 708.5h0M539.2 714.2h0M544.9 702.8h0M544.9 708.5h0M544.9 714.2h0M550.6 697h0M550.6 702.8h0M550.6 708.5h0M556.3 697h0M556.3 702.8h0M556.3 708.5h0M562 697h0M562 702.8h0M567.6 697h0M567.6 702.8h0M573.3 691.3h0M573.3 697h0M573.3 702.8h0M579 691.3h0M579 697h0M579 702.8h0M584.7 691.3h0M584.7 697h0M590.4 691.3h0M590.4 697h0M596 691.3h0M596 697h0M601.7 691.3h0M601.7 697h0M607.4 691.3h0M607.4 697h0" stroke-width="3" /><path d="M505.2 759.8h0M505.2 765.5h0M505.2 771.2h0M505.2 777h0M505.2 782.7h0M510.8 748.4h0M510.8 754.1h0M510.8 759.8h0M510.8 765.5h0M510.8 771.2h0M510.8 777h0M510.8 782.7h0M516.5 742.7h0M516.5 748.4h0M516.5 754.1h0M516.5 759.8h0M516.5 765.5h0M516.5 771.2h0M516.5 777h0M516.5 782.7h0M522.2 731.3h0M522.2 737h0M522.2 742.7h0M522.2 748.4h0M522.2 754.1h0M522.2 759.8h0M527.9 731.3h0M527.9 737h0M527.9 742.7h0M527.9 748.4h0M533.6 725.6h0M533.6 731.3h0M533.6 737h0M533.6 742.7h0M539.2 719.9h0M539.2 725.6h0M539.2 731.3h0M539.2 737h0M544.9 719.9h0M544.9 725.6h0M544.9 731.3h0M550.6 714.2h0M550.6 719.9h0M550.6 725.6h0M556.3 714.2h0M556.3 719.9h0M562 708.5h0M562 714.2h0M562 719.9h0M567.6 708.5h0M567.6 714.2h0M567.6 719.9h0M573.3 708.5h0M573.3 714.2h0M579 708.5h0M579 714.2h0M584.7 702.8h0M584.7 708.5h0M584.7 714.2h0M590.4 702.8h0M590.4 708.5h0M590.4 714.2h0M596 702.8h0M596 708.5h0M596 714.2h0M601.7 702.8h0M601.7 708.5h0M601.7 714.2h0M607.4 702.8h0M607.4 708.5h0M607.4 714.2h0" stroke-width="3.2" /><path d="M522.2 765.5h0M522.2 771.2h0M522.2 777h0M522.2 782.7h0M527.9 754.1h0M527.9 759.8h0M527.9 765.5h0M527.9 771.2h0M527.9 777h0M527.9 782.7h0M533.6 748.4h0M533.6 754.1h0M533.6 759.8h0M533.6 765.5h0M533.6 771.2h0M533.6 777h0M533.6 782.7h0M539.2 742.7h0M539.2 748.4h0M539.2 754.1h0M539.2 759.8h0M539.2 765.5h0M539.2 771.2h0M539.2 777h0M539.2 782.7h0M544.9 737h0M544.9 742.7h0M544.9 748.4h0M544.9 754.1h0M550.6 731.3h0M550.6 737h0M550.6 742.7h0M550.6 748.4h0M556.3 725.6h0M556.3 731.3h0M556.3 737h0M556.3 742.7h0M562 725.6h0M562 731.3h0M562 737h0M567.6 725.6h0M567.6 731.3h0M567.6 737h0M573.3 719.9h0M573.3 725.6h0M573.3 731.3h0M579 719.9h0M579 725.6h0M579 731.3h0M584.7 719.9h0M584.7 725.6h0M584.7 731.3h0M590.4 719.9h0M590.4 725.6h0M596 719.9h0M596 725.6h0M601.7 719.9h0M601.7 725.6h0M607.4 719.9h0M607.4 725.6h0" stroke-width="3.4" /><path d="M544.9 759.8h0M544.9 765.5h0M544.9 771.2h0M544.9 777h0M544.9 782.7h0M550.6 754.1h0M550.6 759.8h0M550.6 765.5h0M550.6 771.2h0M550.6 777h0M550.6 782.7h0M556.3 748.4h0M556.3 754.1h0M556.3 759.8h0M556.3 765.5h0M556.3 771.2h0M556.3 777h0M556.3 782.7h0M562 742.7h0M562 748.4h0M562 754.1h0M562 759.8h0M562 765.5h0M567.6 742.7h0M567.6 748.4h0M567.6 754.1h0M573.3 737h0M573.3 742.7h0M573.3 748.4h0M573.3 754.1h0M579 737h0M579 742.7h0M579 748.4h0M584.7 737h0M584.7 742.7h0M584.7 748.4h0M590.4 731.3h0M590.4 737h0M590.4 742.7h0M596 731.3h0M596 737h0M596 742.7h0M601.7 731.3h0M601.7 737h0M601.7 742.7h0M607.4 731.3h0M607.4 737h0M607.4 742.7h0" stroke-width="3.6" /><path d="M562 771.2h0M562 777h0M562 782.7h0M567.6 759.8h0M567.6 765.5h0M567.6 771.2h0M567.6 777h0M567.6 782.7h0M573.3 759.8h0M573.3 765.5h0M573.3 771.2h0M573.3 777h0M573.3 782.7h0M579 754.1h0M579 759.8h0M579 765.5h0M579 771.2h0M579 777h0M579 782.7h0M584.7 754.1h0M584.7 759.8h0M584.7 765.5h0M584.7 782.7h0M590.4 748.4h0M590.4 754.1h0M590.4 759.8h0M596 748.4h0M596 754.1h0M596 759.8h0M601.7 748.4h0M601.7 754.1h0M601.7 759.8h0M607.4 748.4h0M607.4 754.1h0M607.4 759.8h0" stroke-width="3.8" /><path d="M584.7 771.2h0M584.7 777h0M590.4 765.5h0M590.4 771.2h0M590.4 777h0M590.4 782.7h0M596 765.5h0M596 771.2h0M596 777h0M596 782.7h0M601.7 765.5h0M601.7 771.2h0M601.7 777h0M601.7 782.7h0M607.4 765.5h0M607.4 771.2h0M607.4 777h0M607.4 782.7h0" stroke-width="4" /></g></g>
<g id="g1" clip-path="url(#c1)"><g fill="none" stroke="url(#gg1)" stroke-linecap="round"><path d="M596.3 295.1h0M591.2 295.1h0M586 295.1h0M580.9 295.1h0M575.7 295.1h0M570.6 295.1h0M565.5 295.1h0M560.3 295.1h0M555.2 295.1h0M550 295.1h0M544.9 295.1h0M539.8 295.1h0M534.6 295.1h0M529.5 289.9h0M529.5 295.1h0M524.3 289.9h0M524.3 295.1h0M519.2 289.9h0M519.2 295.1h0M514.1 284.8h0M514.1 289.9h0M514.1 295.1h0M508.9 284.8h0M508.9 289.9h0M508.9 295.1h0M503.8 284.8h0M503.8 289.9h0M503.8 295.1h0M498.6 279.6h0M498.6 284.8h0M498.6 289.9h0M498.6 295.1h0M493.5 274.4h0M493.5 279.6h0M493.5 284.8h0M493.5 289.9h0M493.5 295.1h0M488.4 269.2h0M488.4 274.4h0M488.4 279.6h0M488.4 284.8h0M488.4 289.9h0M488.4 295.1h0M483.2 264.1h0M483.2 269.2h0M483.2 274.4h0M483.2 279.6h0M483.2 284.8h0M483.2 289.9h0M478.1 258.9h0M478.1 264.1h0M478.1 269.2h0M478.1 274.4h0M478.1 279.6h0M478.1 284.8h0M478.1 289.9h0M472.9 243.4h0M472.9 248.6h0M472.9 253.7h0M472.9 258.9h0M472.9 264.1h0M472.9 269.2h0M472.9 274.4h0M472.9 279.6h0M472.9 284.8h0M467.8 243.4h0M467.8 248.6h0M467.8 253.7h0M467.8 258.9h0M467.8 264.1h0M467.8 269.2h0M467.8 274.4h0M467.8 279.6h0M462.7 248.6h0M462.7 253.7h0M462.7 258.9h0M462.7 264.1h0M462.7 269.2h0" stroke-width="1" /><path d="M596.3 289.9h0M591.2 289.9h0M586 289.9h0M580.9 289.9h0M575.7 289.9h0M570.6 289.9h0M565.5 289.9h0M560.3 289.9h0M555.2 289.9h0M550 289.9h0M544.9 289.9h0M539.8 284.8h0M539.8 289.9h0M534.6 284.8h0M534.6 289.9h0M529.5 284.8h0M524.3 279.6h0M524.3 284.8h0M519.2 279.6h0M519.2 284.8h0M514.1 279.6h0M508.9 274.4h0M508.9 279.6h0M503.8 269.2h0M503.8 274.4h0M503.8 279.6h0M498.6 269.2h0M498.6 274.4h0M493.5 264.1h0M493.5 269.2h0M488.4 253.7h0M488.4 258.9h0M488.4 264.1h0M483.2 248.6h0M483.2 253.7h0M483.2 258.9h0M478.1 233.1h0M478.1 238.2h0M478.1 243.4h0M478.1 248.6h0M478.1 253.7h0M472.9 238.2h0" stroke-width="1.2" /><path d="M596.3 284.8h0M591.2 284.8h0M586 284.8h0M580.9 284.8h0M575.7 284.8h0M570.6 284.8h0M565.5 284.8h0M560.3 284.8h0M555.2 284.8h0M550 284.8h0M544.9 279.6h0M544.9 284.8h0M539.8 279.6h0M534.6 279.6h0M529.5 274.4h0M529.5 279.6h0M524.3 274.4h0M519.2 269.2h0M519.2 274.4h0M514.1 264.1h0M514.1 269.2h0M514.1 274.4h0M508.9 264.1h0M508.9 269.2h0M503.8 258.9h0M503.8 264.1h0M498.6 253.7h0M498.6 258.9h0M498.6 264.1h0M493.5 243.4h0M493.5 248.6h0M493.5 253.7h0M493.5 258.9h0M488.4 238.2h0M488.4 243.4h0M488.4 248.6h0M483.2 227.9h0M483.2 233.1h0M483.2 238.2h0M483.2 243.4h0" stroke-width="1.4" /><path d="M596.3 279.6h0M591.2 279.6h0M586 279.6h0M580.9 279.6h0M575.7 279.6h0M570.6 279.6h0M565.5 279.6h0M560.3 279.6h0M555.2 274.4h0M555.2 279.6h0M550 274.4h0M550 279.6h0M544.9 274.4h0M539.8 269.2h0M539.8 274.4h0M534.6 269.2h0M534.6 274.4h0M529.5 264.1h0M529.5 269.2h0M524.3 264.1h0M524.3 269.2h0M519.2 258.9h0M519.2 264.1h0M514.1 253.7h0M514.1 258.9h0M508.9 248.6h0M508.9 253.7h0M508.9 258.9h0M503.8 243.4h0M503.8 248.6h0M503.8 253.7h0M498.6 238.2h0M498.6 243.4h0M498.6 248.6h0M493.5 227.9h0M493.5 233.1h0M493.5 238.2h0M488.4 222.7h0M488.4 227.9h0M488.4 233.1h0" stroke-width="1.6" /><path d="M596.3 269.2h0M596.3 274.4h0M591.2 269.2h0M591.2 274.4h0M586 269.2h0M586 274.4h0M580.9 269.2h0M580.9 274.4h0M575.7 269.2h0M575.7 274.4h0M570.6 269.2h0M570.6 274.4h0M565.5 269.2h0M565.5 274.4h0M560.3 269.2h0M560.3 274.4h0M555.2 269.2h0M550 264.1h0M550 269.2h0M544.9 264.1h0M544.9 269.2h0M539.8 258.9h0M539.8 264.1h0M534.6 258.9h0M534.6 264.1h0M529.5 253.7h0M529.5 258.9h0M524.3 248.6h0M524.3 253.7h0M524.3 258.9h0M519.2 243.4h0M519.2 248.6h0M519.2 253.7h0M514.1 238.2h0M514.1 243.4h0M514.1 248.6h0M508.9 233.1h0M508.9 238.2h0M508.9 243.4h0M503.8 227.9h0M503.8 233.1h0M503.8 238.2h0M498.6 217.6h0M498.6 222.7h0M498.6 227.9h0M498.6 233.1h0M493.5 217.6h0M493.5 222.7h0" stroke-width="1.8" /><path d="M596.3 264.1h0M591.2 264.1h0M586 264.1h0M580.9 264.1h0M575.7 264.1h0M570.6 264.1h0M565.5 264.1h0M560.3 258.9h0M560.3 264.1h0M555.2 258.9h0M555.2 264.1h0M550 253.7h0M550 258.9h0M544.9 253.7h0M544.9 258.9h0M539.8 248.6h0M539.8 253.7h0M534.6 243.4h0M534.6 248.6h0M534.6 253.7h0M529.5 238.2h0M529.5 243.4h0M529.5 248.6h0M524.3 238.2h0M524.3 243.4h0M519.2 227.9h0M519.2 233.1h0M519.2 238.2h0M514.1 222.7h0M514.1 227.9h0M514.1 233.1h0M508.9 217.6h0M508.9 222.7h0M508.9 227.9h0M503.8 207.2h0M503.8 212.4h0M503.8 217.6h0M503.8 222.7h0M498.6 212.4h0" stroke-width="2" /><path d="M596.3 253.7h0M596.3 258.9h0M591.2 253.7h0M591.2 258.9h0M586 253.7h0M586 258.9h0M580.9 253.7h0M580.9 258.9h0M575.7 253.7h0M575.7 258.9h0M570.6 253.7h0M570.6 258.9h0M565.5 253.7h0M565.5 258.9h0M560.3 248.6h0M560.3 253.7h0M555.2 248.6h0M555.2 253.7h0M550 243.4h0M550 248.6h0M544.9 238.2h0M544.9 243.4h0M544.9 248.6h0M539.8 238.2h0M539.8 243.4h0M534.6 233.1h0M534.6 238.2h0M529.5 227.9h0M529.5 233.1h0M524.3 222.7h0M524.3 227.9h0M524.3 233.1h0M519.2 212.4h0M519.2 217.6h0M519.2 222.7h0M514.1 207.2h0M514.1 212.4h0M514.1 217.6h0M508.9 202h0M508.9 207.2h0M508.9 212.4h0" stroke-width="2.2" /><path d="M596.3 243.4h0M596.3 248.6h0M591.2 243.4h0M591.2 248.6h0M586 243.4h0M586 248.6h0M580.9 243.4h0M580.9 248.6h0M575.7 243.4h0M575.7 248.6h0M570.6 243.4h0M570.6 248.6h0M565.5 243.4h0M565.5 248.6h0M560.3 238.2h0M560.3 243.4h0M555.2 238.2h0M555.2 243.4h0M550 233.1h0M550 238.2h0M544.9 227.9h0M544.9 233.1h0M539.8 222.7h0M539.8 227.9h0M539.8 233.1h0M534.6 217.6h0M534.6 222.7h0M534.6 227.9h0M529.5 212.4h0M529.5 217.6h0M529.5 222.7h0M524.3 207.2h0M524.3 212.4h0M524.3 217.6h0M519.2 196.9h0M519.2 202h0M519.2 207.2h0M514.1 196.9h0M514.1 202h0" stroke-width="2.4" /><path d="M596.3 233.1h0M596.3 238.2h0M591.2 233.1h0M591.2 238.2h0M586 233.1h0M586 238.2h0M580.9 233.1h0M580.9 238.2h0M575.7 233.1h0M575.7 238.2h0M570.6 233.1h0M570.6 238.2h0M565.5 233.1h0M565.5 238.2h0M560.3 227.9h0M560.3 233.1h0M555.2 222.7h0M555.2 227.9h0M555.2 233.1h0M550 217.6h0M550 222.7h0M550 227.9h0M544.9 212.4h0M544.9 217.6h0M544.9 222.7h0M539.8 207.2h0M539.8 212.4h0M539.8 217.6h0M534.6 202h0M534.6 207.2h0M534.6 212.4h0M529.5 196.9h0M529.5 202h0M529.5 207.2h0M524.3 186.5h0M524.3 191.7h0M524.3 196.9h0M524.3 202h0M519.2 191.7h0" stroke-width="2.6" /><path d="M596.3 217.6h0M596.3 222.7h0M596.3 227.9h0M591.2 217.6h0M591.2 222.7h0M591.2 227.9h0M586 217.6h0M586 222.7h0M586 227.9h0M580.9 217.6h0M580.9 222.7h0M580.9 227.9h0M575.7 217.6h0M575.7 222.7h0M575.7 227.9h0M570.6 217.6h0M570.6 222.7h0M570.6 227.9h0M565.5 217.6h0M565.5 222.7h0M565.5 227.9h0M560.3 212.4h0M560.3 217.6h0M560.3 222.7h0M555.2 212.4h0M555.2 217.6h0M550 207.2h0M550 212.4h0M544.9 196.9h0M544.9 202h0M544.9 207.2h0M539.8 191.7h0M539.8 196.9h0M539.8 202h0M534.6 186.5h0M534.6 191.7h0M534.6 196.9h0M529.5 181.4h0M529.5 186.5h0M529.5 191.7h0" stroke-width="2.8" /><path d="M596.3 207.2h0M596.3 212.4h0M591.2 207.2h0M591.2 212.4h0M586 207.2h0M586 212.4h0M580.9 207.2h0M580.9 212.4h0M575.7 207.2h0M575.7 212.4h0M570.6 207.2h0M570.6 212.4h0M565.5 207.2h0M565.5 212.4h0M560.3 202h0M560.3 207.2h0M555.2 196.9h0M555.2 202h0M555.2 207.2h0M550 191.7h0M550 196.9h0M550 202h0M544.9 181.4h0M544.9 186.5h0M544.9 191.7h0M539.8 176.2h0M539.8 181.4h0M539.8 186.5h0M534.6 176.2h0M534.6 181.4h0" stroke-width="3" /><path d="M596.3 191.7h0M596.3 196.9h0M596.3 202h0M591.2 191.7h0M591.2 196.9h0M591.2 202h0M586 191.7h0M586 196.9h0M586 202h0M580.9 191.7h0M580.9 196.9h0M580.9 202h0M575.7 191.7h0M575.7 196.9h0M575.7 202h0M570.6 191.7h0M570.6 196.9h0M570.6 202h0M565.5 191.7h0M565.5 196.9h0M565.5 202h0M560.3 186.5h0M560.3 191.7h0M560.3 196.9h0M555.2 181.4h0M555.2 186.5h0M555.2 191.7h0M550 176.2h0M550 181.4h0M550 186.5h0M544.9 165.8h0M544.9 171h0M544.9 176.2h0M539.8 171h0" stroke-width="3.2" /><path d="M596.3 176.2h0M596.3 181.4h0M596.3 186.5h0M591.2 176.2h0M591.2 181.4h0M591.2 186.5h0M586 176.2h0M586 181.4h0M586 186.5h0M580.9 176.2h0M580.9 181.4h0M580.9 186.5h0M575.7 176.2h0M575.7 181.4h0M575.7 186.5h0M570.6 176.2h0M570.6 181.4h0M570.6 186.5h0M565.5 176.2h0M565.5 181.4h0M565.5 186.5h0M560.3 171h0M560.3 176.2h0M560.3 181.4h0M555.2 165.8h0M555.2 171h0M555.2 176.2h0M550 160.7h0M550 165.8h0M550 171h0" stroke-width="3.4" /><path d="M596.3 160.7h0M596.3 165.8h0M596.3 171h0M591.2 160.7h0M591.2 165.8h0M591.2 171h0M586 160.7h0M586 165.8h0M586 171h0M580.9 160.7h0M580.9 165.8h0M580.9 171h0M575.7 160.7h0M575.7 165.8h0M575.7 171h0M570.6 160.7h0M570.6 165.8h0M570.6 171h0M565.5 160.7h0M565.5 165.8h0M565.5 171h0M560.3 155.5h0M560.3 160.7h0M560.3 165.8h0M555.2 155.5h0M555.2 160.7h0" stroke-width="3.6" /><path d="M596.3 145.2h0M596.3 150.3h0M596.3 155.5h0M591.2 145.2h0M591.2 150.3h0M591.2 155.5h0M586 145.2h0M586 150.3h0M586 155.5h0M580.9 145.2h0M580.9 150.3h0M580.9 155.5h0M575.7 145.2h0M575.7 150.3h0M575.7 155.5h0M570.6 145.2h0M570.6 150.3h0M570.6 155.5h0M565.5 145.2h0M565.5 150.3h0M565.5 155.5h0M560.3 150.3h0" stroke-width="3.8" /><path d="M596.3 134.8h0M596.3 140h0M591.2 134.8h0M591.2 140h0M586 134.8h0M586 140h0M580.9 134.8h0M580.9 140h0M575.7 134.8h0M575.7 140h0M570.6 140h0" stroke-width="4" /></g></g>
<g id="g2" clip-path="url(#c2)"><g fill="none" stroke="url(#gg2)" stroke-linecap="round"><path d="M537 402.4h0M531.8 397.2h0M531.8 402.4h0M526.6 397.2h0M526.6 402.4h0M526.6 407.6h0M521.4 392h0M521.4 397.2h0M521.4 402.4h0M516.3 386.8h0M516.3 392h0M516.3 397.2h0M516.3 402.4h0M511.1 386.8h0M511.1 392h0M511.1 397.2h0M511.1 402.4h0M505.9 381.6h0M505.9 386.8h0M505.9 392h0M505.9 397.2h0M500.7 371.2h0M500.7 376.4h0M500.7 381.6h0M500.7 386.8h0M500.7 392h0M495.5 360.9h0M495.5 366h0M495.5 371.2h0M495.5 376.4h0M495.5 381.6h0M495.5 386.8h0M490.3 366h0M490.3 371.2h0M490.3 376.4h0M490.3 381.6h0" stroke-width="0.8" /><path d="M573.3 381.6h0M568.2 381.6h0M563 376.4h0M563 381.6h0M563 386.8h0M557.8 376.4h0M557.8 381.6h0M557.8 386.8h0M552.6 371.2h0M552.6 376.4h0M552.6 381.6h0M552.6 386.8h0M552.6 392h0M547.4 371.2h0M547.4 376.4h0M547.4 381.6h0M547.4 386.8h0M547.4 392h0M542.2 366h0M542.2 371.2h0M542.2 376.4h0M542.2 381.6h0M542.2 386.8h0M542.2 392h0M542.2 397.2h0M537 360.9h0M537 366h0M537 371.2h0M537 376.4h0M537 381.6h0M537 386.8h0M537 392h0M537 397.2h0M531.8 355.7h0M531.8 360.9h0M531.8 366h0M531.8 371.2h0M531.8 376.4h0M531.8 381.6h0M531.8 386.8h0M531.8 392h0M526.6 350.5h0M526.6 355.7h0M526.6 360.9h0M526.6 366h0M526.6 371.2h0M526.6 376.4h0M526.6 381.6h0M526.6 386.8h0M526.6 392h0M521.4 340.1h0M521.4 345.3h0M521.4 350.5h0M521.4 355.7h0M521.4 360.9h0M521.4 366h0M521.4 371.2h0M521.4 376.4h0M521.4 381.6h0M521.4 386.8h0M516.3 340.1h0M516.3 345.3h0M516.3 350.5h0M516.3 355.7h0M516.3 360.9h0M516.3 366h0M516.3 371.2h0M516.3 376.4h0M516.3 381.6h0M511.1 345.3h0M511.1 350.5h0M511.1 355.7h0M511.1 360.9h0M511.1 366h0M511.1 371.2h0M511.1 376.4h0M511.1 381.6h0M505.9 350.5h0M505.9 355.7h0M505.9 360.9h0M505.9 366h0M505.9 371.2h0M505.9 376.4h0M500.7 355.7h0M500.7 360.9h0M500.7 366h0" stroke-width="1.2" /><path d="M583.7 376.4h0M578.5 371.2h0M578.5 376.4h0M573.3 371.2h0M573.3 376.4h0M568.2 366h0M568.2 371.2h0M568.2 376.4h0M563 366h0M563 371.2h0M557.8 360.9h0M557.8 366h0M557.8 371.2h0M552.6 355.7h0M552.6 360.9h0M552.6 366h0M547.4 350.5h0M547.4 355.7h0M547.4 360.9h0M547.4 366h0M542.2 345.3h0M542.2 350.5h0M542.2 355.7h0M542.2 360.9h0M537 340.1h0M537 345.3h0M537 350.5h0M537 355.7h0M531.8 334.9h0M531.8 340.1h0M531.8 345.3h0M531.8 350.5h0M526.6 329.7h0M526.6 334.9h0M526.6 340.1h0M526.6 345.3h0M521.4 334.9h0" stroke-width="1.4" /><path d="M599.3 366h0M594.1 366h0M588.9 366h0M588.9 371.2h0M583.7 360.9h0M583.7 366h0M583.7 371.2h0M578.5 355.7h0M578.5 360.9h0M578.5 366h0M573.3 355.7h0M573.3 360.9h0M573.3 366h0M568.2 350.5h0M568.2 355.7h0M568.2 360.9h0M563 345.3h0M563 350.5h0M563 355.7h0M563 360.9h0M557.8 340.1h0M557.8 345.3h0M557.8 350.5h0M557.8 355.7h0M552.6 334.9h0M552.6 340.1h0M552.6 345.3h0M552.6 350.5h0M547.4 329.7h0M547.4 334.9h0M547.4 340.1h0M547.4 345.3h0M542.2 324.5h0M542.2 329.7h0M542.2 334.9h0M542.2 340.1h0M537 319.3h0M537 324.5h0M537 329.7h0M537 334.9h0M531.8 324.5h0M531.8 329.7h0" stroke-width="1.6" /><path d="M599.3 355.7h0M599.3 360.9h0M594.1 350.5h0M594.1 355.7h0M594.1 360.9h0M588.9 350.5h0M588.9 355.7h0M588.9 360.9h0M583.7 345.3h0M583.7 350.5h0M583.7 355.7h0M578.5 340.1h0M578.5 345.3h0M578.5 350.5h0M573.3 334.9h0M573.3 340.1h0M573.3 345.3h0M573.3 350.5h0M568.2 334.9h0M568.2 340.1h0M568.2 345.3h0M563 329.7h0M563 334.9h0M563 340.1h0M557.8 319.3h0M557.8 324.5h0M557.8 329.7h0M557.8 334.9h0M552.6 314.1h0M552.6 319.3h0M552.6 324.5h0M552.6 329.7h0M547.4 308.9h0M547.4 314.1h0M547.4 319.3h0M547.4 324.5h0M542.2 314.1h0M542.2 319.3h0" stroke-width="1.8" /><path d="M599.3 340.1h0M599.3 345.3h0M599.3 350.5h0M594.1 334.9h0M594.1 340.1h0M594.1 345.3h0M588.9 329.7h0M588.9 334.9h0M588.9 340.1h0M588.9 345.3h0M583.7 329.7h0M583.7 334.9h0M583.7 340.1h0M578.5 324.5h0M578.5 329.7h0M578.5 334.9h0M573.3 319.3h0M573.3 324.5h0M573.3 329.7h0M568.2 314.1h0M568.2 319.3h0M568.2 324.5h0M568.2 329.7h0M563 303.8h0M563 308.9h0M563 314.1h0M563 319.3h0M563 324.5h0M557.8 298.6h0M557.8 303.8h0M557.8 308.9h0M557.8 314.1h0M552.6 303.8h0M552.6 308.9h0" stroke-width="2" /><path d="M599.3 324.5h0M599.3 329.7h0M599.3 334.9h0M594.1 319.3h0M594.1 324.5h0M594.1 329.7h0M588.9 314.1h0M588.9 319.3h0M588.9 324.5h0M583.7 308.9h0M583.7 314.1h0M583.7 319.3h0M583.7 324.5h0M578.5 303.8h0M578.5 308.9h0M578.5 314.1h0M578.5 319.3h0M573.3 298.6h0M573.3 303.8h0M573.3 308.9h0M573.3 314.1h0M568.2 288.2h0M568.2 293.4h0M568.2 298.6h0M568.2 303.8h0M568.2 308.9h0M563 293.4h0M563 298.6h0" stroke-width="2.2" /><path d="M599.3 303.8h0M599.3 308.9h0M599.3 314.1h0M599.3 319.3h0M594.1 298.6h0M594.1 303.8h0M594.1 308.9h0M594.1 314.1h0M588.9 293.4h0M588.9 298.6h0M588.9 303.8h0M588.9 308.9h0M583.7 288.2h0M583.7 293.4h0M583.7 298.6h0M583.7 303.8h0M578.5 283h0M578.5 288.2h0M578.5 293.4h0M578.5 298.6h0M573.3 283h0M573.3 288.2h0M573.3 293.4h0" stroke-width="2.4" /><path d="M599.3 283h0M599.3 288.2h0M599.3 293.4h0M599.3 298.6h0M594.1 277.8h0M594.1 283h0M594.1 288.2h0M594.1 293.4h0M588.9 272.6h0M588.9 277.8h0M588.9 283h0M588.9 288.2h0M583.7 272.6h0M583.7 277.8h0M583.7 283h0M578.5 277.8h0" stroke-width="2.6" /><path d="M599.3 262.2h0M599.3 267.4h0M599.3 272.6h0M599.3 277.8h0M594.1 262.2h0M594.1 267.4h0M594.1 272.6h0M588.9 267.4h0" stroke-width="2.8" /><path d="M599.3 257.1h0" stroke-width="3" /></g></g>
</svg>
<div class="bar" style="left:65px;top:227.7px;width:465.8px;height:73.7px"></div>
<div class="inner" style="left:192px;top:232.2px;width:330.4px;height:64.4px"></div>
<div class="bar" style="left:67px;top:325px;width:465.8px;height:73.4px"></div>
<div class="inner" style="left:192px;top:328.2px;width:329.8px;height:67.6px"></div>
<div class="bar" style="left:65px;top:417.2px;width:465.8px;height:73.6px"></div>
<div class="inner" style="left:192px;top:422.1px;width:330.0px;height:64.3px"></div>
<div class="bar" style="left:67px;top:517px;width:465.8px;height:73.6px"></div>
<div class="inner" style="left:192px;top:524px;width:330.0px;height:58.0px"></div>
<div class="t" style="left:23.57px;top:47.35px;font:bold 56.3px 'Liberation Sans';line-height:1;transform:scaleX(0.8697);-webkit-text-stroke:0.8px #fff">J</div>
<div class="t" style="left:50.90px;top:47.35px;font:bold 56.3px 'Liberation Sans';line-height:1;transform:scaleX(1.0491);-webkit-text-stroke:0.8px #fff">O</div>
<div class="t" style="left:96.94px;top:47.35px;font:bold 56.3px 'Liberation Sans';line-height:1;transform:scaleX(1.0216);-webkit-text-stroke:0.8px #fff">U</div>
<div class="t" style="left:139.17px;top:47.35px;font:bold 56.3px 'Liberation Sans';line-height:1;transform:scaleX(0.9633);-webkit-text-stroke:0.8px #fff">R</div>
<div class="t" style="left:178.60px;top:47.35px;font:bold 56.3px 'Liberation Sans';line-height:1;transform:scaleX(1.1382);-webkit-text-stroke:0.8px #fff">N</div>
<div class="t" style="left:224.41px;top:47.35px;font:bold 56.3px 'Liberation Sans';line-height:1;transform:scaleX(1.0890);-webkit-text-stroke:0.8px #fff">A</div>
<div class="t" style="left:270.02px;top:47.35px;font:bold 56.3px 'Liberation Sans';line-height:1;transform:scaleX(0.9176);-webkit-text-stroke:0.8px #fff">L</div>
<div class="t" style="left:302.41px;top:47.35px;font:bold 56.3px 'Liberation Sans';line-height:1;transform:scaleX(1.0290);-webkit-text-stroke:0.8px #fff">S</div>
<div class="t" style="left:356.50px;top:47.35px;font:bold 56.3px 'Liberation Sans';line-height:1;transform:scaleX(1.0994);-webkit-text-stroke:0.8px #fff">G</div>
<div class="t" style="left:434.64px;top:47.35px;font:bold 56.3px 'Liberation Sans';line-height:1;transform:scaleX(1.0339);-webkit-text-stroke:0.8px #fff">F</div>
<div class="t" style="left:472.74px;top:47.35px;font:bold 56.3px 'Liberation Sans';line-height:1;transform:scaleX(1.0382);-webkit-text-stroke:0.8px #fff">T</div>
<div class="t" style="left:510.59px;top:47.35px;font:bold 56.3px 'Liberation Sans';line-height:1;transform:scaleX(0.9569);-webkit-text-stroke:0.8px #fff">E</div>
<div class="t" style="left:547.81px;top:47.35px;font:bold 56.3px 'Liberation Sans';line-height:1;transform:scaleX(1.0732);-webkit-text-stroke:0.8px #fff">D</div>
<div class="t" style="left:67.58px;top:118.45px;font:bold 56.3px 'Liberation Sans';line-height:1;transform:scaleX(0.8440);-webkit-text-stroke:0.8px #fff">J</div>
<div class="t" style="left:93.92px;top:118.45px;font:bold 56.3px 'Liberation Sans';line-height:1;transform:scaleX(1.0761);-webkit-text-stroke:0.8px #fff">A</div>
<div class="t" style="left:137.55px;top:118.45px;font:bold 56.3px 'Liberation Sans';line-height:1;transform:scaleX(1.1529);-webkit-text-stroke:0.8px #fff">N</div>
<div class="t" style="left:184.46px;top:118.45px;font:bold 56.3px 'Liberation Sans';line-height:1;transform:scaleX(1.0129);-webkit-text-stroke:0.8px #fff">U</div>
<div class="t" style="left:226.22px;top:118.45px;font:bold 56.3px 'Liberation Sans';line-height:1;transform:scaleX(1.0839);-webkit-text-stroke:0.8px #fff">A</div>
<div class="t" style="left:271.39px;top:118.45px;font:bold 56.3px 'Liberation Sans';line-height:1;transform:scaleX(0.9578);-webkit-text-stroke:0.8px #fff">R</div>
<div class="t" style="left:309.94px;top:118.45px;font:bold 56.3px 'Liberation Sans';line-height:1;transform:scaleX(1.1211);-webkit-text-stroke:0.8px #fff">Y</div>
<div class="t" style="left:369.11px;top:118.45px;font:bold 56.3px 'Liberation Sans';line-height:1;transform:scaleX(1.2571);-webkit-text-stroke:0.8px #fff">2</div>
<div class="t" style="left:407.95px;top:118.45px;font:bold 56.3px 'Liberation Sans';line-height:1;transform:scaleX(1.0264);-webkit-text-stroke:0.8px #fff">O</div>
<div class="t" style="left:453.61px;top:118.45px;font:bold 56.3px 'Liberation Sans';line-height:1;transform:scaleX(1.2589);-webkit-text-stroke:0.8px #fff">2</div>
<div class="t" style="left:493.09px;top:118.45px;font:bold 56.3px 'Liberation Sans';line-height:1;transform:scaleX(1.2321);-webkit-text-stroke:0.8px #fff">6</div>
<div class="t" style="left:192.23px;top:252.40px;font:bold 30.8px 'Liberation Sans';line-height:1;transform:scaleX(1.1802);-webkit-text-stroke:0.4px #fff">MA</div>
<div class="t" style="left:265.70px;top:252.40px;font:bold 30.8px 'Liberation Sans';line-height:1;transform:scaleX(1.0298);-webkit-text-stroke:0.4px #fff">LED</div>
<div class="t" style="left:192.04px;top:346.50px;font:bold 30.8px 'Liberation Sans';line-height:1;transform:scaleX(1.1177);-webkit-text-stroke:0.4px #fff">HAND</div>
<div class="t" style="left:298.91px;top:346.50px;font:bold 30.8px 'Liberation Sans';line-height:1;transform:scaleX(1.0228);-webkit-text-stroke:0.4px #fff">DEL</div>
<div class="t" style="left:380.75px;top:346.50px;font:bold 30.8px 'Liberation Sans';line-height:1;transform:scaleX(1.0529);-webkit-text-stroke:0.4px #fff">VERED</div>
<div class="t" style="left:193.02px;top:439.45px;font:bold 30.8px 'Liberation Sans';line-height:1;transform:scaleX(1.1210);-webkit-text-stroke:0.4px #fff">TOTAL</div>
<div class="t" style="left:313.42px;top:439.45px;font:bold 30.8px 'Liberation Sans';line-height:1;transform:scaleX(1.0476);-webkit-text-stroke:0.4px #fff">FOR</div>
<div class="t" style="left:391.20px;top:439.45px;font:bold 30.8px 'Liberation Sans';line-height:1;transform:scaleX(1.1423);-webkit-text-stroke:0.4px #fff">MONTH</div>
<div class="t" style="left:194.62px;top:539.35px;font:bold 30.8px 'Liberation Sans';line-height:1;transform:scaleX(1.0790);-webkit-text-stroke:0.4px #fff">GRAND</div>
<div class="t" style="left:325.12px;top:539.35px;font:bold 30.8px 'Liberation Sans';line-height:1;transform:scaleX(1.1271);-webkit-text-stroke:0.4px #fff">TOTAL</div>
<div class="t" style="left:258.85px;top:701.45px;font:normal 31px 'Liberation Serif';line-height:1;transform:scaleX(1.2463);-webkit-text-stroke:0.35px #fff">ournal</div>
<div class="t" style="left:261.25px;top:733.45px;font:normal 8.2px 'Liberation Sans';line-height:1;letter-spacing:3.79px;color:#e8eff1;will-change:transform">REVOLUTION</div>
<svg width="600" height="776" viewBox="0 0 600 776" style="position:absolute;left:0;top:0"><g fill="#fff"><path d="M406.7 55.4H430.7V62.3H423.8V88.1H430.7V95H406.7V88.1H413.6V62.3H406.7Z"/><path d="M250.5 256.1H264.5V260H260.2V273.9H264.5V277.8H250.5V273.9H254.8V260H250.5Z"/><path d="M363.8 350.2H378.4V354.1H373.8V368H378.4V371.9H363.8V368H368.4V354.1H363.8Z"/></g><g fill="#0b3f4b" color="#0b3f4b" stroke="#0b3f4b" stroke-width="0.4" stroke-linejoin="round"><g transform="translate(110 254)"><path d="M0 20.4H16V25H0ZM4.8 0H10.9V25H4.8ZM4.8 0L0.4 2.1V6.2L4.8 4.7Z"/></g><g transform="translate(128 254)"><path fill-rule="evenodd" d="M12.8 0H20V15H24.2V19.7H20V25H14.2V19.7H0V15.4ZM14.2 5.8L6.7 15H14.2Z"/></g></g><g fill="#0b3f4b" color="#0b3f4b" stroke="#0b3f4b" stroke-width="0.4" stroke-linejoin="round"><g transform="translate(97.5 348.3)"><path d="M0 20.4H16V25H0ZM4.8 0H10.9V25H4.8ZM4.8 0L0.4 2.1V6.2L4.8 4.7Z"/></g><g transform="translate(116.7 348.3)"><path d="M1.35 6.3A9.9 6.4 0 1 1 21.15 6.3A9.9 6.4 0 1 1 1.35 6.3ZM0 17.6A11.25 7.4 0 1 1 22.5 17.6A11.25 7.4 0 1 1 0 17.6ZM6.55 6.7A4.7 2.5 0 1 0 15.95 6.7A4.7 2.5 0 1 0 6.55 6.7ZM5.85 17.4A5.4 3.2 0 1 0 16.65 17.4A5.4 3.2 0 1 0 5.85 17.4Z"/></g><g transform="translate(140 348.3)"><path fill-rule="evenodd" d="M12.8 0H20V15H24.2V19.7H20V25H14.2V19.7H0V15.4ZM14.2 5.8L6.7 15H14.2Z"/></g></g><g fill="#0b3f4b" color="#0b3f4b" stroke="#0b3f4b" stroke-width="0.4" stroke-linejoin="round"><g transform="translate(98 439)"><path d="M0 20.4H16V25H0ZM4.8 0H10.9V25H4.8ZM4.8 0L0.4 2.1V6.2L4.8 4.7Z"/></g><g transform="translate(116.7 439)"><path d="M0 8.3A11.4 8.4 0 1 1 22.8 8.3A11.4 8.4 0 1 1 0 8.3ZM5.8 8.1A5.1 3.8 0 1 0 16 8.1A5.1 3.8 0 1 0 5.8 8.1Z"/><path d="M20.2 8.3C20.4 17.5 16.6 22.6 10.3 22.6C7.2 22.6 4.7 21.5 2.9 19.4" fill="none" stroke="currentColor" stroke-width="5"/></g><g transform="translate(140.8 439)"><path d="M1.35 6.3A9.9 6.4 0 1 1 21.15 6.3A9.9 6.4 0 1 1 1.35 6.3ZM0 17.6A11.25 7.4 0 1 1 22.5 17.6A11.25 7.4 0 1 1 0 17.6ZM6.55 6.7A4.7 2.5 0 1 0 15.95 6.7A4.7 2.5 0 1 0 6.55 6.7ZM5.85 17.4A5.4 3.2 0 1 0 16.65 17.4A5.4 3.2 0 1 0 5.85 17.4Z"/></g></g><g fill="#0b3f4b" color="#0b3f4b" stroke="#0b3f4b" stroke-width="0.4" stroke-linejoin="round"><g transform="translate(84 541)"><path d="M1.5 0H20.2V4L13 9.4C18 9.8 21 12.8 21 17C21 21.8 17 24.6 10.5 24.6C5.6 24.6 2 22.8 0 19.6L3.9 17C5.2 19 7.5 20.2 10.5 20.2C14 20.2 16 19 16 16.9C16 14.8 14 13.5 10.5 13.5H7.2V10L13.5 4.3H1.5Z"/></g><g transform="translate(108.5 541)"><path d="M0.2 20.3H4.7V25L2.4 30.8H-0.3L1.1 25H0.2Z"/></g><g transform="translate(116.5 541)"><path d="M1.5 0H20.2V4L13 9.4C18 9.8 21 12.8 21 17C21 21.8 17 24.6 10.5 24.6C5.6 24.6 2 22.8 0 19.6L3.9 17C5.2 19 7.5 20.2 10.5 20.2C14 20.2 16 19 16 16.9C16 14.8 14 13.5 10.5 13.5H7.2V10L13.5 4.3H1.5Z"/></g><g transform="translate(141.6 541)"><path d="M0 20.4H16V25H0ZM4.8 0H10.9V25H4.8ZM4.8 0L0.4 2.1V6.2L4.8 4.7Z"/></g><g transform="translate(161.3 541)"><path d="M0 20.4H16V25H0ZM4.8 0H10.9V25H4.8ZM4.8 0L0.4 2.1V6.2L4.8 4.7Z"/></g></g></svg>
<svg width="600" height="776" viewBox="0 0 600 776" style="position:absolute;left:0;top:0">
<g fill="#ffffff" stroke="#ffffff" stroke-width="0.35" stroke-linejoin="round">
<path fill-rule="evenodd" d="M265.5 667.6A38.2 30.6 0 1 1 341.9 667.6A38.2 30.6 0 1 1 265.5 667.6ZM268.6 667.7A35.6 28.7 0 1 1 339.8 667.7A35.6 28.7 0 1 1 268.6 667.7Z"/>
<path d="M267.8 647.7Q285.5 633.6 314 630.4Q289 637.6 267.8 647.7Z"/>
<path d="M289.3 645.6H306.2V646.7H301.5Q300.1 646.8 300.1 648.4V681C300.1 688 295 690.6 289 690.6C281 690.6 275.2 685.6 275.2 678.5C275.2 671.5 281.5 666.8 292.3 667L292.3 668.2C284.5 668 280 672 280 678.5C280 685 284.5 688.9 289.5 688.9C293.5 688.9 295.4 686 295.4 681V648.4Q295.4 646.8 294 646.7H289.3Z"/>
<path d="M306.7 646.2H308V669.6H306.7Z"/>
<path d="M306 645.6C316.5 645 323.6 649 323.6 657C323.6 664 318 668.6 309 669.4L308 667.9C314.5 667.5 318.4 663.5 318.4 657C318.4 650.2 314 646.8 306 647Z"/>
<path d="M308.2 668.6L313 668.2L325.6 684C328.5 687.3 331.5 688.4 335.5 688.6L335.4 689.4C330 690 326 689.2 322.3 685.8Z"/>
<path d="M250 705H260.8V705.9H258.4Q257.3 706 257.3 707.2V726C257.3 731 254 733.6 249.8 733.6C244.8 733.6 241.3 730.6 241.3 726.2C241.3 721.6 245.6 718.3 252.6 718.3L252.6 719.3C247.6 719.3 244.6 721.8 244.6 726.1C244.6 730 247 732.4 250 732.4C252.6 732.4 253.8 730.4 253.8 726.6V707.2Q253.8 706 252.7 705.9H250Z"/>
</g></svg>
</body></html>
